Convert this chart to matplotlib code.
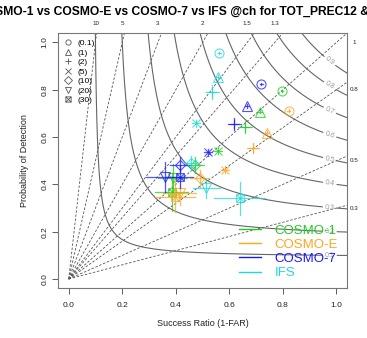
import numpy as np
import matplotlib
matplotlib.use("Agg")
import matplotlib.pyplot as plt
from matplotlib.lines import Line2D
from matplotlib.path import Path

plt.rcParams['font.family'] = ['Liberation Sans', 'DejaVu Sans']

thresholds = ["(0.1)", "(1)", "(2)", "(5)", "(10)", "(20)", "(30)"]
models = ["COSMO-1", "COSMO-E", "COSMO-7", "IFS"]
colors = ["#22cc22", "#ffa520", "#1a1aff", "#22d8d8"]

# success ratio / POD per threshold
sr = {
    "COSMO-1": [0.796, 0.715, 0.659, 0.557, 0.470, 0.388, 0.384],
    "COSMO-E": [0.822, 0.740, 0.688, 0.582, 0.489, 0.414, 0.396],
    "COSMO-7": [0.719, 0.667, 0.619, 0.522, 0.414, 0.358, 0.414],
    "IFS":     [0.563, 0.557, 0.536, 0.476, 0.458, 0.514, 0.638],
}
pod = {
    "COSMO-1": [0.795, 0.708, 0.641, 0.543, 0.482, 0.427, 0.368],
    "COSMO-E": [0.712, 0.619, 0.553, 0.461, 0.426, 0.364, 0.348],
    "COSMO-7": [0.823, 0.732, 0.654, 0.536, 0.482, 0.431, 0.433],
    "IFS":     [0.955, 0.853, 0.792, 0.658, 0.489, 0.383, 0.341],
}
sr_err = {
    "COSMO-1": [0.005, 0.008, 0.025, 0.015, 0.035, 0.055, 0.06],
    "COSMO-E": [0.005, 0.008, 0.022, 0.015, 0.035, 0.06, 0.075],
    "COSMO-7": [0.005, 0.008, 0.025, 0.015, 0.035, 0.07, 0.05],
    "IFS":     [0.005, 0.01, 0.025, 0.015, 0.03, 0.05, 0.095],
}
pod_err = {
    "COSMO-1": [0.005, 0.008, 0.025, 0.015, 0.035, 0.06, 0.08],
    "COSMO-E": [0.005, 0.008, 0.022, 0.015, 0.035, 0.05, 0.065],
    "COSMO-7": [0.005, 0.008, 0.025, 0.015, 0.035, 0.065, 0.05],
    "IFS":     [0.005, 0.01, 0.03, 0.015, 0.03, 0.04, 0.07],
}

bias_levels = [0.3, 0.5, 0.8, 1, 1.3, 1.5, 2, 3, 5, 10]
bias_labels = ["0.3", "0.5", "0.8", "1", "1.3", "1.5", "2", "3", "5", "10"]
csi_levels = [0.1, 0.2, 0.3, 0.4, 0.5, 0.6, 0.7, 0.8, 0.9]

# square with a cross
sqx = Path([(-1, -1), (1, -1), (1, 1), (-1, 1), (-1, -1), (-1, -1), (1, 1), (-1, 1), (1, -1)],
           [Path.MOVETO, Path.LINETO, Path.LINETO, Path.LINETO, Path.CLOSEPOLY,
            Path.MOVETO, Path.LINETO, Path.MOVETO, Path.LINETO])
markers = ['o', '^', '+', 'x', 'D', 'v', sqx]
msizes = [6.5, 6.5, 6.5, 5.5, 5.5, 6.5, 5.5]

fig = plt.figure(figsize=(3.67, 3.38), dpi=100)
ax = fig.add_axes([0.158, 0.1465, 0.788, 0.756])
ax.set_xlim(-0.04, 1.04)
ax.set_ylim(-0.04, 1.04)

# CSI contours
g = np.linspace(0.002, 1.04, 500)
SR, POD = np.meshgrid(g, g)
CSI = 1.0 / (1.0 / SR + 1.0 / POD - 1.0)
cs = ax.contour(SR, POD, CSI, levels=csi_levels, colors='#666666', linewidths=0.8)
pos = []
for c in csi_levels:
    x = 0.975
    y = 1.0 / (1.0 / c - 1.0 / x + 1.0)
    pos.append((x, y))
ax.clabel(cs, levels=csi_levels, manual=pos, inline=True, fontsize=5, colors='#999999', fmt='%g', inline_spacing=2)

# bias lines
xs = np.array([0.0, 1.1])
for b, lab in zip(bias_levels, bias_labels):
    ax.plot(xs, b * xs, ls=(0, (3, 2)), color='#555555', lw=0.6)
    if b > 1:
        ax.text(1.0 / b, 1.078, lab, ha='center', va='center', fontsize=4.5, color='#222222', clip_on=False)
    else:
        ax.text(1.067, b, lab, ha='center', va='center', fontsize=4.5, color='#222222', clip_on=False)

# points
for m, col in zip(models, colors):
    for i in range(len(thresholds)):
        x, y = sr[m][i], pod[m][i]
        ax.plot([x - sr_err[m][i], x + sr_err[m][i]], [y, y], color=col, lw=0.9, alpha=0.75)
        ax.plot([x, x], [y - pod_err[m][i], y + pod_err[m][i]], color=col, lw=0.9, alpha=0.75)
        ax.plot([x], [y], marker=markers[i], ms=msizes[i], mfc='none', mec=col, mew=0.8, ls='none', alpha=0.75)

# threshold legend
h1 = [Line2D([], [], marker=mk, ms=3.8, mfc='none', mec='#555555', mew=0.6, ls='none') for mk in markers]
leg1 = ax.legend(h1, thresholds, loc='upper left', frameon=False, fontsize=6, handlelength=1.0,
                 handletextpad=0.6, labelspacing=0.2, borderaxespad=0.55, borderpad=0.2)
ax.add_artist(leg1)

h2 = [Line2D([], [], color=c, lw=1.0) for c in colors]
ax.legend(h2, models, loc='lower right', frameon=False, fontsize=9.5, handlelength=1.7,
          handletextpad=1.0, labelspacing=0.15, labelcolor=colors, borderaxespad=0.3)

ticks = [0.0, 0.2, 0.4, 0.6, 0.8, 1.0]
ax.set_xticks(ticks)
ax.set_yticks(ticks)
ax.set_xticklabels([f"{t:.1f}" for t in ticks])
ax.set_yticklabels([f"{t:.1f}" for t in ticks], rotation=90, va='center')
ax.tick_params(axis='x', direction='out', length=4, width=0.6, colors='#444444', labelsize=6, labelcolor='#222222', pad=6)
ax.tick_params(axis='y', direction='out', length=4, width=0.6, colors='#444444', labelsize=6, labelcolor='#222222', pad=3)
for s in ax.spines.values():
    s.set_color('#777777')
    s.set_linewidth(0.8)
ax.set_xlabel("Success Ratio (1-FAR)", fontsize=6.5, color='#222222', labelpad=7)
ax.set_ylabel("Probability of Detection", fontsize=6.5, color='#222222', labelpad=9)

fig.text(-23 / 367, 1 - 12 / 338, "COSMO-1 vs COSMO-E vs COSMO-7 vs IFS @ch for TOT_PREC12 & TOT_PREC24",
         ha='left', va='center', fontsize=8.7, fontweight='bold')

fig.savefig("out.png", dpi=100)
